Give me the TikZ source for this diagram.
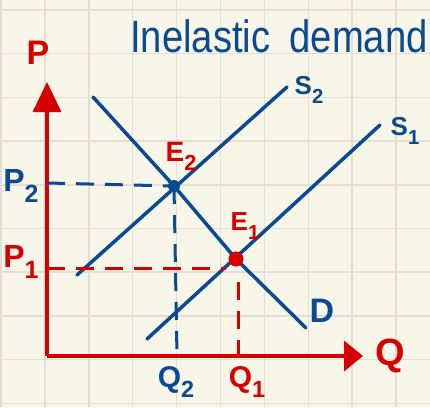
\documentclass[tikz,border=0pt]{standalone}
\usepackage{fontspec}
\setmainfont{Liberation Sans}
\usetikzlibrary{arrows.meta}
\definecolor{paper}{HTML}{F8F5E9}
\definecolor{gridc}{HTML}{E3E0D3}
\definecolor{ired}{HTML}{D60000}
\definecolor{iblue}{HTML}{0B4A90}
\newcommand{\lowsub}[1]{\raisebox{-0.32em}{\scalebox{0.78}{#1}}}
\begin{document}
\begin{tikzpicture}[x=1pt,y=-1pt,
  curve/.style={draw=iblue, line width=3.5pt, line cap=round},
  axis/.style={draw=ired, line width=3.5pt},
  bdash/.style={draw=iblue, line width=3pt, dash pattern=on 18pt off 11pt},
  rdash/.style={draw=ired, line width=3pt, dash pattern=on 18pt off 11pt},
  blab/.style={text=iblue, inner sep=0pt},
  rlab/.style={text=ired, inner sep=0pt},
  fs/.style={font=\fontsize{#1}{#1}\selectfont\bfseries}
]
\fill[paper] (0,0) rectangle (430,407);
\useasboundingbox (0,0) rectangle (430,407);
\foreach \i in {0,...,9} {
  \draw[gridc, line width=1.5pt] ({1+43.9*\i},0) -- ({1+43.9*\i},407);
  \draw[gridc, line width=1.5pt] (0,{10+43.7*\i}) -- (430,{10+43.7*\i});
}
% title
\node[blab, font=\fontsize{42}{42}\selectfont] (title) at (279,36) {\scalebox{0.91}[1.08]{Inelastic\hspace{0.5em}demand}};
% axes
\coordinate (O) at (47,356);
\coordinate (Ptop) at (47,82);
\coordinate (Qend) at (363,356);
\draw[axis, -{Triangle[length=30pt,width=28pt]}] (O) -- (Ptop);
\draw[axis, -{Triangle[length=19pt,width=30pt]}] (O) -- (Qend);
\node[rlab, fs=34] (P) at (38,53) {P};
\node[rlab, fs=38] (Q) at (390,356) {Q};
% curves
\coordinate (Dtop) at (93,97);
\coordinate (Dbot) at (306,328);
\coordinate (S2a) at (77,275);
\coordinate (S2b) at (287,87);
\coordinate (S1a) at (147,339);
\coordinate (S1b) at (380,125);
\coordinate (E2c) at (174,186);
\coordinate (E1c) at (236,259);
\draw[curve] (Dtop) -- (E2c) -- (E1c) -- (Dbot);
\draw[curve] (S2a) -- (S2b);
\draw[curve] (S1a) -- (S1b);
% dashed guides
\coordinate (P2ax) at (47,183);
\coordinate (Q2ax) at (177,356);
\coordinate (P1ax) at (47,268);
\coordinate (Q1top) at (238,282);
\coordinate (Q1ax) at (238,356);
\coordinate (P1end) at (226,268);
\draw[bdash] (P2ax) -- (E2c);
\draw[bdash] (E2c) -- (Q2ax);
\draw[rdash] (P1ax) -- (P1end);
\draw[rdash] (Q1top) -- (Q1ax);
% points
\node[circle, fill=iblue, minimum size=12pt, inner sep=0pt] (E2) at (E2c) {};
\node[circle, fill=ired, minimum size=15pt, inner sep=0pt] (E1) at (E1c) {};
% labels
\node[rlab, fs=28] (E2l) at (181,156) {E\lowsub{2}};
\node[rlab, fs=26] (E1l) at (245,226) {E\lowsub{1}};
\node[blab, fs=26] (S2l) at (309,90) {S\lowsub{2}};
\node[blab, fs=26] (S1l) at (405,131) {S\lowsub{1}};
\node[blab, fs=34] (Dl) at (322,311) {D};
\node[blab, fs=32] (P2l) at (21,186) {P\lowsub{2}};
\node[rlab, fs=32] (P1l) at (21,262) {P\lowsub{1}};
\node[blab, fs=30] (Q2l) at (176,382) {Q\lowsub{2}};
\node[rlab, fs=30] (Q1l) at (247,382) {Q\lowsub{1}};
\end{tikzpicture}
\end{document}
